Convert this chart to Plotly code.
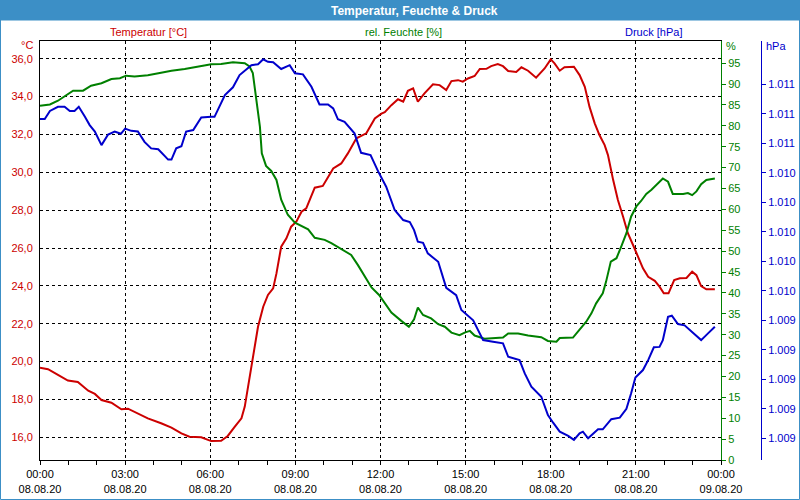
import pandas as pd
import plotly.graph_objects as go

DAY = "2020-08-08 "

temp_times = ["00:00","00:17","00:38","00:59","01:20","01:42","01:56","02:10","02:31","02:52","03:06","03:27","03:48","04:16","04:38","04:59","05:16","05:41","06:02","06:23","06:37","06:52","07:06","07:13","07:20","07:30","07:41","07:52","08:02","08:13","08:20","08:30","08:41","08:51","09:02","09:13","09:23","09:41","09:58","10:20","10:37","10:51","11:09","11:30","11:48","12:02","12:09","12:23","12:37","12:48","12:58","13:09","13:19","13:33","13:51","14:05","14:19","14:30","14:44","14:54","15:05","15:19","15:30","15:44","15:54","16:08","16:19","16:30","16:47","16:58","17:12","17:29","17:47","18:00","18:08","18:19","18:29","18:49","19:01","19:12","19:22","19:33","19:43","19:54","20:01","20:12","20:22","20:33","20:43","20:54","21:04","21:15","21:26","21:40","21:50","21:59","22:09","22:21","22:33","22:47","22:59","23:08","23:18","23:29","23:47"]
temp_vals = [19.68,19.6,19.3,19.0,18.92,18.46,18.29,17.97,17.83,17.48,17.51,17.27,17.0,16.74,16.51,16.21,16.03,16.0,15.8,15.82,16.07,16.56,17.0,17.62,18.67,20.08,21.84,22.9,23.52,23.87,24.66,26.07,26.51,27.13,27.39,27.92,28.1,29.19,29.28,30.21,30.47,31.0,31.8,32.06,32.85,33.1,33.18,33.55,33.86,33.73,34.31,34.44,33.73,34.17,34.65,34.61,34.35,34.82,34.87,34.79,34.96,35.09,35.46,35.47,35.61,35.72,35.61,35.35,35.3,35.55,35.37,35.0,35.49,35.97,35.76,35.37,35.55,35.58,35.14,34.52,33.46,32.59,31.97,31.44,30.91,29.59,28.54,27.65,26.78,26.16,25.54,24.93,24.48,24.27,23.96,23.61,23.61,24.31,24.40,24.42,24.75,24.57,23.99,23.82,23.82]

hum_times = ["00:00","00:21","00:38","00:52","01:10","01:31","01:48","02:10","02:31","02:49","03:02","03:20","03:48","04:16","04:38","05:06","05:34","06:02","06:23","06:48","07:13","07:23","07:30","07:37","07:45","07:49","07:58","08:09","08:20","08:30","08:44","08:59","09:13","09:27","09:41","10:02","10:16","10:37","10:58","11:12","11:27","11:41","11:57","12:09","12:23","12:44","13:00","13:11","13:19","13:30","13:47","14:02","14:16","14:30","14:47","14:58","15:09","15:19","15:40","16:19","16:30","16:51","17:12","17:40","17:54","18:12","18:19","18:47","18:58","19:15","19:26","19:36","19:50","19:57","20:07","20:19","20:29","20:40","20:50","21:01","21:11","21:22","21:33","21:47","21:57","22:08","22:18","22:40","22:50","22:59","23:08","23:18","23:29","23:47"]
hum_vals = [84.8,85.1,86.0,87.0,88.4,88.4,89.6,90.2,91.2,91.4,92.0,91.8,92.1,92.7,93.2,93.6,94.2,94.75,94.8,95.2,95.0,94.2,92.6,87.0,79.8,73.4,70.4,69.2,67.05,62.3,58.7,56.8,55.9,55.2,53.2,52.7,51.9,50.45,49.1,46.7,43.9,41.3,39.5,37.5,35.3,33.3,31.9,33.7,36.5,34.7,33.9,32.5,31.9,30.5,29.9,30.5,30.9,29.8,29.05,29.3,30.3,30.3,29.8,29.4,28.5,28.3,29.2,29.3,30.7,33.1,35.1,37.5,39.9,42.7,47.5,48.3,51.1,54.3,58.3,60.7,62.0,63.7,64.7,66.4,67.4,66.6,63.7,63.7,63.9,63.4,64.3,66.0,67.05,67.4]

pres_times = ["00:00","00:10","00:21","00:38","00:52","01:03","01:13","01:22","01:35","01:45","01:56","02:10","02:24","02:38","02:51","03:00","03:13","03:27","03:41","03:55","04:10","04:31","04:38","04:48","04:59","05:09","05:24","05:41","06:02","06:09","06:31","06:48","07:02","07:16","07:27","07:41","07:52","08:02","08:13","08:30","08:48","08:59","09:16","09:34","09:51","10:09","10:20","10:30","10:44","11:05","11:19","11:39","11:55","12:12","12:30","12:48","13:02","13:11","13:19","13:30","13:40","14:02","14:19","14:40","14:51","15:16","15:37","15:58","16:19","16:30","16:54","17:05","17:19","17:40","17:54","18:05","18:19","18:37","18:49","19:01","19:08","19:19","19:40","19:50","20:08","20:26","20:40","20:50","20:59","21:15","21:26","21:38","21:50","21:57","22:08","22:16","22:29","22:43","22:57","23:18","23:32","23:47"]
pres_vals = [1010.765,1010.765,1010.82,1010.848,1010.848,1010.82,1010.82,1010.848,1010.78,1010.724,1010.68,1010.588,1010.66,1010.68,1010.665,1010.70,1010.685,1010.68,1010.61,1010.566,1010.56,1010.49,1010.49,1010.566,1010.58,1010.68,1010.69,1010.776,1010.78,1010.78,1010.927,1010.98,1011.063,1011.097,1011.13,1011.136,1011.17,1011.153,1011.15,1011.104,1011.13,1011.075,1011.068,1010.984,1010.864,1010.864,1010.837,1010.763,1010.746,1010.668,1010.536,1010.52,1010.41,1010.306,1010.148,1010.08,1010.066,1010.012,1009.933,1009.926,1009.854,1009.797,1009.62,1009.571,1009.47,1009.40,1009.266,1009.255,1009.244,1009.153,1009.13,1009.04,1008.95,1008.882,1008.758,1008.706,1008.645,1008.616,1008.589,1008.634,1008.645,1008.60,1008.661,1008.661,1008.73,1008.74,1008.80,1008.905,1009.013,1009.063,1009.13,1009.217,1009.22,1009.266,1009.424,1009.431,1009.375,1009.366,1009.327,1009.266,1009.31,1009.357]

temp_ticks = [16, 18, 20, 22, 24, 26, 28, 30, 32, 34, 36]
hum_ticks = list(range(0, 100, 5))
pres_ticks = [1008.6, 1008.8, 1009.0, 1009.2, 1009.4, 1009.6, 1009.8, 1010.0, 1010.2, 1010.4, 1010.6, 1010.8, 1011.0]

RED = "#CC0000"
GREEN = "#008000"
BLUE = "#0000CC"
BAR = "#3C8FC6"
FONT = "Liberation Sans"

def ts(times):
    return pd.to_datetime([DAY + t for t in times])

fig = go.Figure()
fig.add_trace(go.Scatter(x=ts(hum_times), y=hum_vals, yaxis="y2", mode="lines",
                         line=dict(color=GREEN, width=2), name="rel. Feuchte [%]"))
fig.add_trace(go.Scatter(x=ts(pres_times), y=pres_vals, yaxis="y3", mode="lines",
                         line=dict(color=BLUE, width=2), name="Druck [hPa]"))
fig.add_trace(go.Scatter(x=ts(temp_times), y=temp_vals, yaxis="y", mode="lines",
                         line=dict(color=RED, width=2), name="Temperatur [°C]"))

W_PLOT = 750.0  # plot width in px (40..790)
H_PLOT = 419.0  # plot height in px (41..460)
def px(x):
    return (x - 40) / W_PLOT
def py(y):
    return (460 - y) / H_PLOT

fig.update_layout(
    width=800, height=500,
    margin=dict(l=40, r=10, t=41, b=40, autoexpand=False),
    paper_bgcolor="white", plot_bgcolor="white",
    separators=",.",
    showlegend=False,
    font=dict(family=FONT, size=11, color="black"),
    xaxis=dict(
        domain=[0, 681 / W_PLOT],
        type="date", automargin=False,
        range=["2020-08-08 00:00", "2020-08-09 00:00"],
        tick0="2020-08-08 00:00", dtick=3 * 3600 * 1000,
        tickformat="%H:%M<br>%d.%m.%y",
        ticks="outside", ticklen=4, tickcolor="black",
        minor=dict(dtick=3600 * 1000, ticks="outside", ticklen=4, tickcolor="black", showgrid=False),
        showgrid=True, gridcolor="black", griddash="dot", gridwidth=1,
        showline=True, linecolor="black", linewidth=1, mirror=True,
        zeroline=False,
        tickfont=dict(family=FONT, size=11, color="black"),
    ),
    yaxis=dict(
        range=[14.80, 36.94], automargin=False,
        tickvals=temp_ticks, tickformat=".1f",
        ticks="", ticklabelstandoff=4,
        showgrid=True, gridcolor="black", griddash="dot", gridwidth=1,
        showline=True, linecolor="black", linewidth=1,
        zeroline=False,
        tickfont=dict(family=FONT, size=11, color=RED),
    ),
    yaxis2=dict(
        overlaying="y", side="right", anchor="x", automargin=False,
        range=[0, 100.3],
        tickvals=hum_ticks,
        ticks="outside", ticklen=4, tickcolor=GREEN,
        showgrid=False, zeroline=False,
        showline=True, linecolor=GREEN, linewidth=1,
        tickfont=dict(family=FONT, size=11, color=GREEN),
    ),
    yaxis3=dict(
        overlaying="y", side="right", anchor="free", position=px(761), automargin=False,
        range=[1008.453, 1011.294],
        tickvals=pres_ticks, tickformat=",.0f",
        ticks="outside", ticklen=4, tickcolor=BLUE,
        showgrid=False, zeroline=False,
        showline=True, linecolor=BLUE, linewidth=1,
        tickfont=dict(family=FONT, size=11, color=BLUE),
    ),
)

shapes = [
    dict(type="rect", xref="paper", yref="paper",
         x0=px(0), x1=px(800), y0=py(20.5), y1=py(0),
         fillcolor=BAR, line=dict(width=0), layer="above"),
    dict(type="rect", xref="paper", yref="paper",
         x0=px(0.5), x1=px(799.5), y0=py(499.5), y1=py(0.5),
         line=dict(color=BAR, width=1), fillcolor="rgba(0,0,0,0)", layer="above"),
]
fig.update_layout(shapes=shapes)

annots = [
    dict(text="<b>Temperatur, Feuchte &amp; Druck</b>", x=px(414), y=py(10.5),
         font=dict(family=FONT, size=12, color="white"), xanchor="center", yanchor="middle"),
    dict(text="Temperatur [°C]", x=px(148.5), y=py(32), font=dict(color=RED),
         xanchor="center", yanchor="middle"),
    dict(text="rel. Feuchte [%]", x=px(403), y=py(32), font=dict(color=GREEN),
         xanchor="center", yanchor="middle"),
    dict(text="Druck [hPa]", x=px(653), y=py(32), font=dict(color=BLUE),
         xanchor="center", yanchor="middle"),
    dict(text="°C", x=px(35), y=py(45), font=dict(color=RED),
         xanchor="right", yanchor="middle"),
    dict(text="%", x=px(724), y=py(46), font=dict(color=GREEN),
         xanchor="left", yanchor="middle"),
    dict(text="hPa", x=px(764), y=py(46), font=dict(color=BLUE),
         xanchor="left", yanchor="middle"),
]
for a in annots:
    a.update(xref="paper", yref="paper", showarrow=False)
    a.setdefault("font", {})
    a["font"].setdefault("family", FONT)
    a["font"].setdefault("size", 11)
fig.update_layout(annotations=annots)

fig.write_html("out.html")
